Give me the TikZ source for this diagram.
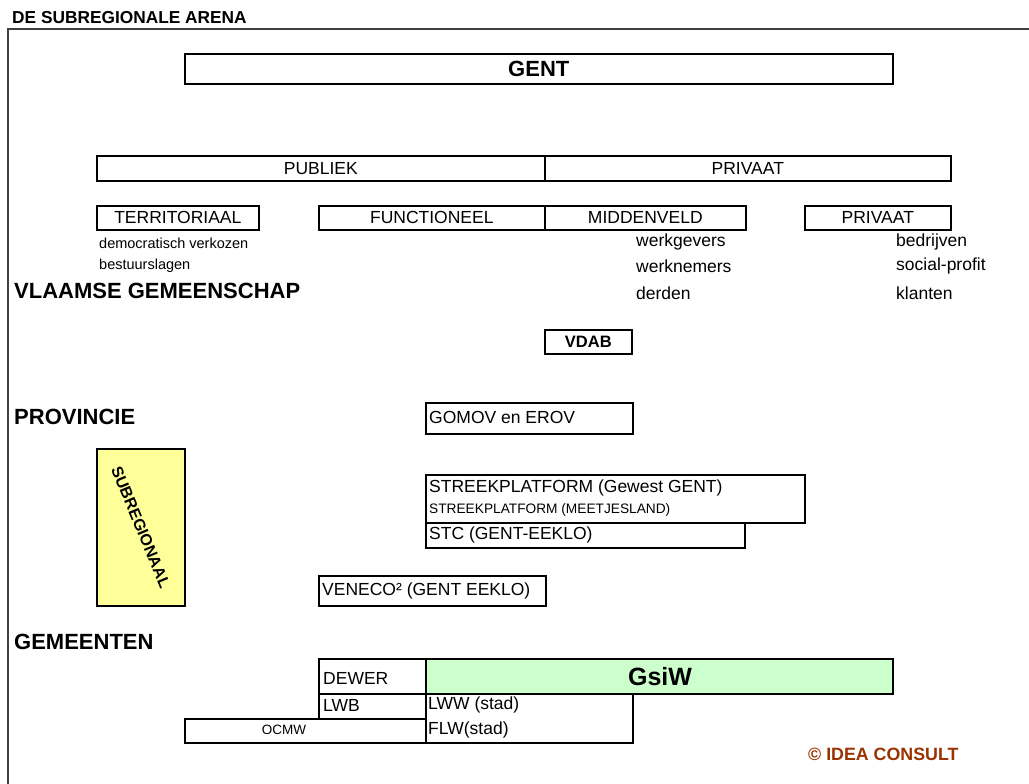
\documentclass[tikz,border=0pt]{standalone}
\usepackage{fontspec}
\setmainfont{Liberation Sans}
\definecolor{gsigreen}{HTML}{CCFFCC}
\definecolor{subyellow}{HTML}{FFFF99}
\definecolor{ideabrown}{HTML}{993300}
\definecolor{framegray}{HTML}{404040}
\begin{document}
\begin{tikzpicture}[x=1pt,y=-1pt,
  box/.style={draw, line width=1.6pt, inner sep=0pt, anchor=north west, font=\fontsize{17.5}{20}\selectfont},
  lbl/.style={anchor=west, inner sep=0pt, font=\fontsize{17.5}{20}\selectfont},
  small/.style={anchor=west, inner sep=0pt, font=\fontsize{14.5}{17}\selectfont},
  head/.style={anchor=west, inner sep=0pt, font=\fontsize{22}{25}\selectfont\bfseries}]
\useasboundingbox (0,0) rectangle (1029,784);
% outer frame
\draw[framegray, line width=2pt] (8,784) -- (8,29) -- (1029,29);
\node[anchor=west, inner sep=0pt, font=\fontsize{17.3}{20}\selectfont\bfseries] (title) at (12,18) {DE SUBREGIONALE ARENA};
% GENT
\node[box, minimum width=708pt, minimum height=30pt, font=\fontsize{22}{24}\selectfont\bfseries] (gent) at (184,53) {GENT};
% publiek / privaat
\node[box, minimum width=448pt, minimum height=25pt] (publiek) at (96,155) {PUBLIEK};
\node[box, minimum width=406pt, minimum height=25pt] (privaat) at (544,155) {PRIVAAT};
% categories
\node[box, minimum width=162pt, minimum height=24pt] (terr) at (96,205) {TERRITORIAAL};
\node[box, minimum width=226pt, minimum height=24pt] (func) at (318,205) {FUNCTIONEEL};
\node[box, minimum width=201pt, minimum height=24pt] (midd) at (544,205) {MIDDENVELD};
\node[box, minimum width=146pt, minimum height=24pt] (priv2) at (804,205) {PRIVAAT};
% descriptions
\node[small] (dem) at (99,243) {democratisch verkozen};
\node[small] (best) at (99,266) {bestuurslagen};
\node[lbl] (werkg) at (636,242) {werkgevers};
\node[lbl] (werkn) at (636,266) {werknemers};
\node[lbl] (derden) at (636,293) {derden};
\node[lbl] (bedr) at (896,242) {bedrijven};
\node[lbl] (social) at (896,266) {social-profit};
\node[lbl] (klant) at (896,293) {klanten};
% level headings
\node[head] (vlaams) at (14,291) {VLAAMSE GEMEENSCHAP};
\node[head] (prov) at (14,417) {PROVINCIE};
\node[head] (gem) at (14,642) {GEMEENTEN};
% VDAB
\node[box, minimum width=87pt, minimum height=24pt, font=\fontsize{16.5}{19}\selectfont\bfseries] (vdab) at (544,329) {VDAB};
% GOMOV
\node[box, minimum width=207pt, minimum height=31pt] (gomov) at (425,402) {};
\node[lbl] (gomovt) at (429,417) {GOMOV en EROV};
% subregionaal
\node[box, minimum width=88pt, minimum height=157pt, fill=subyellow] (subreg) at (96,448) {};
\node[inner sep=0pt, rotate=-67.5, font=\fontsize{16}{18}\selectfont\bfseries] (subregt) at (subreg.center) {SUBREGIONAAL};
% streekplatform
\node[box, minimum width=379pt, minimum height=48pt] (streek) at (425,474) {};
\node[lbl] (streekt) at (429,488) {STREEKPLATFORM (Gewest GENT)};
\node[anchor=west, inner sep=0pt, font=\fontsize{13.7}{16}\selectfont] (meetj) at (429,510) {STREEKPLATFORM (MEETJESLAND)};
\node[box, minimum width=319pt, minimum height=25pt] (stc) at (425,522) {};
\node[lbl] (stct) at (429,535) {STC (GENT-EEKLO)};
% veneco
\node[box, minimum width=227pt, minimum height=30pt] (veneco) at (318,575) {};
\node[lbl] (venecot) at (322,591) {VENECO² (GENT EEKLO)};
% gemeenten
\node[box, minimum width=107pt, minimum height=35pt] (dewer) at (318,658) {};
\node[lbl] (dewert) at (323,678) {DEWER};
\node[box, minimum width=467pt, minimum height=35pt, fill=gsigreen] (gsiw) at (425,658) {};
\node[inner sep=0pt, font=\fontsize{25}{28}\selectfont\bfseries] (gsiwt) at (660,677) {GsiW};
\node[box, minimum width=107pt, minimum height=25pt] (lwb) at (318,693) {};
\node[lbl] (lwbt) at (323,705) {LWB};
\node[box, minimum width=241pt, minimum height=24pt] (ocmw) at (184,718) {};
\node[inner sep=0pt, font=\fontsize{13.5}{15}\selectfont] (ocmwt) at (284,730) {OCMW};
\node[box, minimum width=207pt, minimum height=49pt] (lww) at (425,693) {};
\node[lbl] (lwwt) at (428,705) {LWW (stad)};
\node[lbl] (flwt) at (428,730) {FLW(stad)};
% credit
\node[anchor=west, inner sep=0pt, text=ideabrown, font=\fontsize{17.8}{20}\selectfont\bfseries] (credit) at (808,754) {© IDEA CONSULT};
\end{tikzpicture}
\end{document}
